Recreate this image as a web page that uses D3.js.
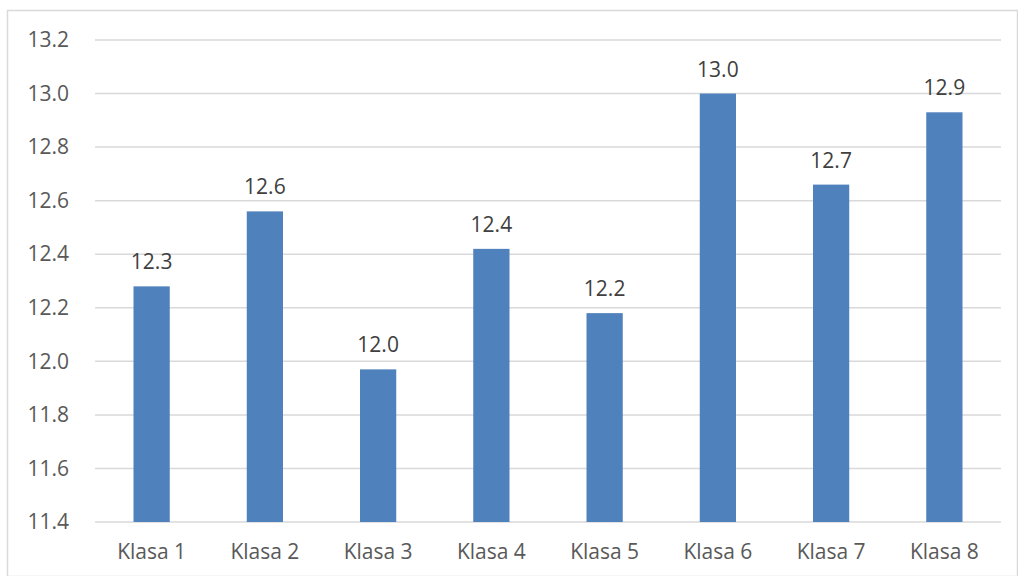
<!DOCTYPE html>
<html><head><meta charset="utf-8">
<script src="https://cdn.jsdelivr.net/npm/d3@7"></script>
<style>html,body{margin:0;padding:0;background:#fff;}svg{display:block;}</style>
</head><body>
<script>
const categories = ["Klasa 1","Klasa 2","Klasa 3","Klasa 4","Klasa 5","Klasa 6","Klasa 7","Klasa 8"];
const values = [12.28, 12.56, 11.97, 12.42, 12.18, 13.00, 12.66, 12.93];
const labels = ["12.3","12.6","12.0","12.4","12.2","13.0","12.7","12.9"];
const yTicks = [11.4, 11.6, 11.8, 12.0, 12.2, 12.4, 12.6, 12.8, 13.0, 13.2];

const W = 1018, H = 576;
const svg = d3.select("body").append("svg").attr("width", W).attr("height", H);
svg.append("rect").attr("x", 7.5).attr("y", 10.5).attr("width", W - 8).attr("height", H - 10)
  .attr("fill", "#fff").attr("stroke", "#d9d9d9").attr("stroke-width", 1.5);

const mLeft = 95, mRight = 1001, mTop = 40, mBottom = 522;
const x = d3.scaleBand().domain(categories).range([mLeft, mRight]).paddingInner(0.68).paddingOuter(0.34);
const y = d3.scaleLinear().domain([11.4, 13.2]).range([mBottom, mTop]);

const font = "'Open Sans', sans-serif";
const fs = 21;

// gridlines
svg.append("g").selectAll("line").data(yTicks).join("line")
  .attr("x1", mLeft).attr("x2", mRight)
  .attr("y1", d => y(d)).attr("y2", d => y(d))
  .attr("stroke", "#d9d9d9").attr("stroke-width", 1.5);

// y axis labels
const yAxis = d3.axisLeft(y).tickValues(yTicks).tickFormat(d3.format(".1f")).tickSize(0).tickPadding(26);
const ga = svg.append("g").attr("transform", `translate(${mLeft},0)`).call(yAxis);
ga.select(".domain").remove();
ga.selectAll("text").attr("font-family", font).attr("font-size", fs).attr("fill", "#595959");

// x axis labels
const xAxis = d3.axisBottom(x).tickSize(0).tickPadding(22);
const gx = svg.append("g").attr("transform", `translate(0,${mBottom})`).call(xAxis);
gx.select(".domain").remove();
gx.selectAll("text").attr("font-family", font).attr("font-size", fs).attr("fill", "#595959");

// bars
svg.append("g").selectAll("rect").data(values).join("rect")
  .attr("x", (d, i) => x(categories[i]))
  .attr("width", x.bandwidth())
  .attr("y", d => y(d))
  .attr("height", d => y(11.4) - y(d))
  .attr("fill", "#4f81bd");

// data labels
svg.append("g").selectAll("text").data(values).join("text")
  .attr("x", (d, i) => x(categories[i]) + x.bandwidth() / 2)
  .attr("y", d => y(d) - 17)
  .attr("text-anchor", "middle")
  .attr("font-family", font).attr("font-size", fs).attr("fill", "#404040")
  .text((d, i) => labels[i]);
</script>
</body></html>
